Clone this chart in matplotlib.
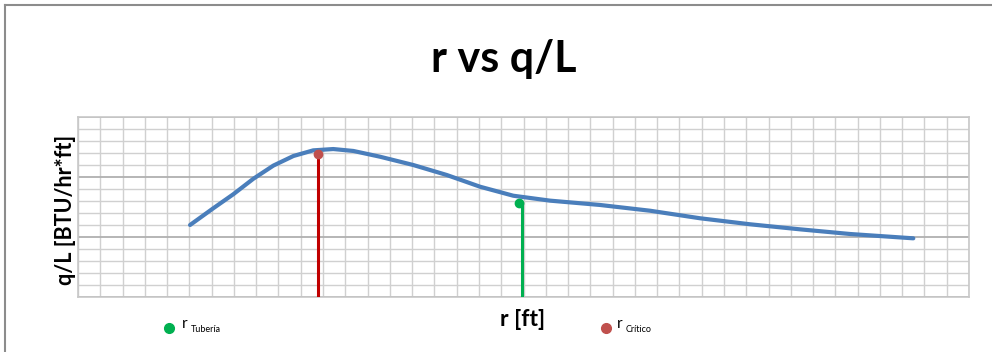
import numpy as np
import matplotlib
matplotlib.use("Agg")
import matplotlib.pyplot as plt
from matplotlib.lines import Line2D

plt.rcParams['font.family'] = ['Lato', 'DejaVu Sans']

# curve (grid units: 40 columns x 15 rows)
r_vals = [5.03, 6.07, 6.97, 7.87, 8.77, 9.67, 10.56, 11.46, 12.36, 13.56,
          15.05, 16.55, 18.05, 19.54, 21.19, 23.43, 25.68, 27.93, 30.17,
          32.41, 34.66, 37.5]
qL_vals = [6.0, 7.39, 8.56, 9.85, 10.95, 11.75, 12.22, 12.33, 12.17, 11.69,
           11.0, 10.17, 9.19, 8.44, 8.03, 7.67, 7.19, 6.56, 6.06,
           5.64, 5.25, 4.89]

r_critico = 10.79
qL_critico = 11.89
r_tuberia = 19.92
qL_tuberia = 7.81

fig = plt.figure(figsize=(9.92, 3.52), dpi=100)
ax = fig.add_axes([78/992, 1-297/352, 891/992, 180/352])

ax.set_xlim(0, 40)
ax.set_ylim(0, 15)
ax.set_xticks(np.arange(0, 41, 1))
ax.set_yticks(np.arange(0, 16, 5))
ax.set_yticks(np.arange(0, 16, 1), minor=True)
ax.tick_params(which='both', length=0, labelleft=False, labelbottom=False)
ax.grid(True, which='major', axis='x', color='#d0d0d0', lw=1.0)
ax.grid(True, which='minor', axis='y', color='#d0d0d0', lw=1.0)
ax.grid(True, which='major', axis='y', color='#b0b0b0', lw=1.3)
ax.set_axisbelow(True)
for s in ax.spines.values():
    s.set_color('#c8c8c8')
    s.set_linewidth(1.2)

ax.plot(r_vals, qL_vals, color='#4a7ebb', lw=3.0, solid_capstyle='round',
        solid_joinstyle='round', zorder=3)

# vertical markers
ax.plot([r_critico, r_critico], [0, qL_critico], color='#c00000', lw=2.2, zorder=4)
ax.plot([r_critico], [qL_critico], 'o', color='#c0504d', ms=6, zorder=5)
ax.plot([r_tuberia, r_tuberia], [0, qL_tuberia], color='#00b050', lw=2.2, zorder=4)
ax.plot([r_tuberia - 0.1], [qL_tuberia], 'o', color='#00b050', ms=6, zorder=5)

# texts
fig.text(504/992, 1-72/352, 'r vs q/L', ha='center', va='baseline',
         fontsize=31, fontweight='bold')
fig.text(65/992, 1-210/352, 'q/L [BTU/hr*ft]', rotation=90, ha='center',
         va='center', fontsize=15.5, fontweight='bold')
fig.text(523/992, 1-320/352, 'r [ft]', ha='center', va='center',
         fontsize=16.5, fontweight='bold')

# legend-ish items under the plot
fig.add_artist(Line2D([169/992], [1-328/352], marker='o', ms=7,
                      color='#00b050', ls='none'))
fig.text(182/992, 1-324/352, 'r', ha='left', va='center', fontsize=11)
fig.text(191/992, 1-330/352, 'Tubería', ha='left', va='center', fontsize=6.5)
fig.add_artist(Line2D([606/992], [1-328/352], marker='o', ms=7,
                      color='#c0504d', ls='none'))
fig.text(617/992, 1-324/352, 'r', ha='left', va='center', fontsize=11)
fig.text(626/992, 1-330/352, 'Crítico', ha='left', va='center', fontsize=6.5)

# outer chart border (top and left visible)
fig.add_artist(Line2D([5/992, 1], [1-5/352, 1-5/352], color='#8c8c8c', lw=1.5))
fig.add_artist(Line2D([5/992, 5/992], [0, 1-5/352], color='#8c8c8c', lw=1.5))

fig.savefig('out.png', dpi=100)
